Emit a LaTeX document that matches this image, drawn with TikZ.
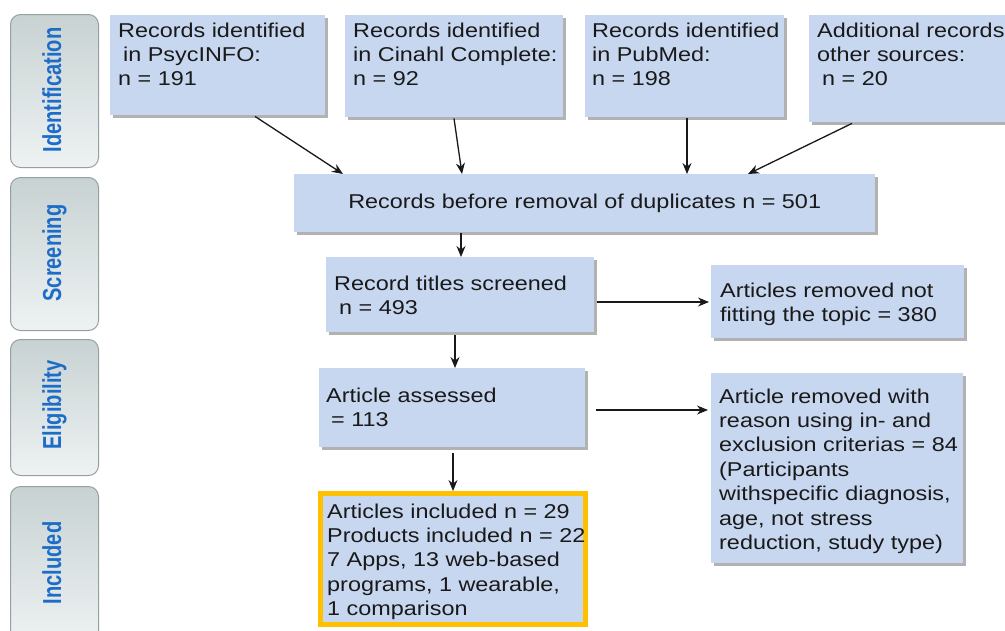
\documentclass[tikz,border=0pt]{standalone}
\usepackage{fontspec}
\usepackage{graphicx}
\setmainfont{Liberation Sans}[FakeStretch=1.17]
\usetikzlibrary{arrows.meta,calc,shadows}
\definecolor{boxblue}{RGB}{200,215,240}
\definecolor{incyellow}{RGB}{255,192,0}
\definecolor{sideblue}{RGB}{28,108,200}
\definecolor{sidetop}{RGB}{200,210,210}
\definecolor{sidebot}{RGB}{238,242,243}
\definecolor{sideborder}{RGB}{150,160,160}
\definecolor{txtgray}{RGB}{25,25,25}
\newcommand{\bt}[1]{\parbox[t]{300pt}{\raggedright #1}}
\begin{document}
\begin{tikzpicture}[x=1pt,y=-1pt,
  mbox/.style={fill=boxblue, draw=none, inner sep=0pt, anchor=north west,
    drop shadow={shadow xshift=2.5pt,shadow yshift=-2.5pt,opacity=0.3,fill=black}},
  tx/.style={anchor=base west, inner sep=0pt, text=txtgray, font=\fontsize{20}{24.4}\selectfont},
  side/.style={draw=sideborder, line width=1pt, rounded corners=10pt, top color=sidetop,
    bottom color=sidebot, minimum width=88pt, anchor=north west, inner sep=0pt},
  sidetxt/.style={rotate=90, anchor=base, inner sep=0pt, text=sideblue,
    font=\fontsize{26}{28}\selectfont\bfseries},
  arr/.style={line width=1.3pt, draw=black!90, -{Stealth[length=11pt,width=9pt]}}]
\useasboundingbox (0,0) rectangle (1005,630);
\fill[white] (0,0) rectangle (1005,630);

% side phase boxes
\node[side, minimum height=153pt] (s1) at (10,14) {};
\node[side, minimum height=153pt] (s2) at (10,177) {};
\node[side, minimum height=136pt] (s3) at (10,339) {};
\node[side, minimum height=160pt] (s4) at (10,486) {};
\node[sidetxt] (l1) at (61,90) {\scalebox{0.66}[1]{Identification}};
\node[sidetxt] (l2) at (61,253) {\scalebox{0.66}[1]{Screening}};
\node[sidetxt] (l3) at (61,405) {\scalebox{0.66}[1]{Eligibility}};
\node[sidetxt] (l4) at (61,563) {\scalebox{0.66}[1]{Included}};

% identification boxes
\node[mbox, minimum width=215pt, minimum height=100pt] (b1) at (110,15) {};
\node[mbox, minimum width=218pt, minimum height=102pt] (b2) at (345,15) {};
\node[mbox, minimum width=199pt, minimum height=102pt] (b3) at (585,15) {};
\node[mbox, minimum width=205pt, minimum height=107pt] (b4) at (809,15) {};
\node[tx] (t1) at (118,37) {\bt{Records identified\\\hspace*{5pt}in PsycINFO:\\n = 191}};
\node[tx] (t2) at (353,37) {\bt{Records identified\\in Cinahl Complete:\\n = 92}};
\node[tx] (t3) at (592,37) {\bt{Records identified\\in PubMed:\\n = 198}};
\node[tx] (t4) at (817,37) {\bt{Additional records\\other sources:\\\hspace*{5pt}n = 20}};

% duplicates
\node[mbox, minimum width=581pt, minimum height=58pt, text=txtgray,
  font=\fontsize{20}{24}\selectfont] (dup) at (294,174) {Records before removal of duplicates n = 501};

% screening
\node[mbox, minimum width=268pt, minimum height=75pt] (scr) at (326,257) {};
\node[tx] (tscr) at (334,290) {\bt{Record titles screened\\\hspace*{5pt}n = 493}};
\node[mbox, minimum width=253pt, minimum height=73pt] (rem1) at (711,265) {};
\node[tx] (trem1) at (720,297) {\bt{Articles removed not\\fitting the topic = 380}};

% eligibility
\node[mbox, minimum width=266pt, minimum height=79pt] (ass) at (319,368) {};
\node[tx] (tass) at (326,402) {\bt{Article assessed\\\hspace*{5pt}= 113}};
\node[mbox, minimum width=252pt, minimum height=190pt] (rem2) at (711,373) {};
\node[tx] (trem2) at (719,403) {\bt{Article removed with\\reason using in- and\\exclusion criterias = 84\\(Participants\\withspecific diagnosis,\\age, not stress\\reduction, study type)}};

% included
\node[mbox, draw=incyellow, line width=5pt, minimum width=265pt, minimum height=131pt] (inc) at (318,491) {};
\node[tx] (tinc) at (327,518) {\bt{Articles included n = 29\\Products included n = 22\\7 Apps, 13 web-based\\programs, 1 wearable,\\1 comparison}};

% arrows
\draw[arr] ($(b1.south west)+(145,1)$) -- ($(dup.north west)+(49,0)$);
\draw[arr] ($(b2.south west)+(109,1)$) -- ($(dup.north west)+(168,0)$);
\draw[arr] ($(b3.south west)+(102,1)$) -- ($(dup.north west)+(393,0)$);
\draw[arr] ($(b4.south west)+(43,1)$) -- ($(dup.north west)+(454,0)$);
\draw[arr] ($(dup.south west)+(167,1)$) -- ($(scr.north west)+(135,0)$);
\draw[arr] ($(scr.south west)+(129,3)$) -- ($(ass.north west)+(136,0)$);
\draw[arr] ($(ass.south west)+(134,6)$) -- ($(inc.north west)+(135,0)$);
\coordinate (r1in) at ($(rem1.north west)+(-2,37)$);
\coordinate (r2in) at ($(rem2.north west)+(-3,37)$);
\draw[arr] ($(scr.east |- r1in)+(3,0)$) -- (r1in);
\draw[arr] ($(ass.east |- r2in)+(11,0)$) -- (r2in);
\end{tikzpicture}
\end{document}
